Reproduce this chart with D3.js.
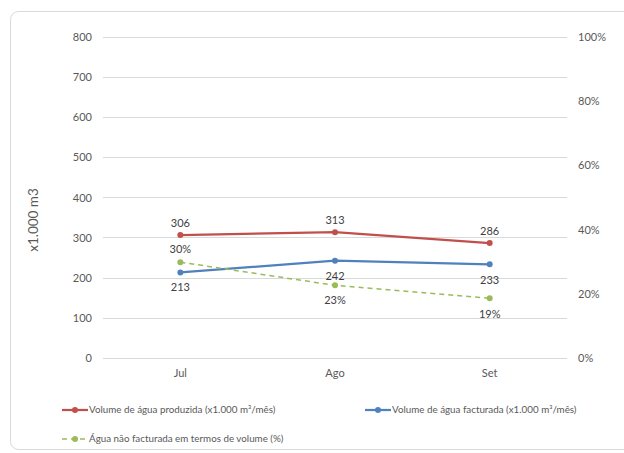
<!DOCTYPE html>
<html><head><meta charset="utf-8">
<script src="https://cdn.jsdelivr.net/npm/d3@7"></script>
<style>body{margin:0;background:#fff}svg{display:block}text{font-family:Lato,"Open Sans",sans-serif}</style>
</head><body><svg id="c" width="624" height="453"></svg>
<script>
const months = ["Jul","Ago","Set"];
const produced = [306,313,286];
const billed = [213,242,233];
const nonBilled = [0.298,0.226,0.186];
const nonBilledLabels = ["30%","23%","19%"];
const leftTicks = [0,100,200,300,400,500,600,700,800];
const rightTicks = [0,0.2,0.4,0.6,0.8,1];
const seriesNames = ["Volume de água produzida (x1.000 m³/mês)","Volume de água facturada (x1.000 m³/mês)","Água não facturada em termos de volume (%)"];

const svg = d3.select("#c");
svg.append("rect").attr("x",10.5).attr("y",11.5).attr("width",640).attr("height",438).attr("rx",8)
  .attr("fill","#fff").attr("stroke","#d9d9d9");

const x = d3.scaleBand().domain(months).range([103,567]);
const y = d3.scaleLinear().domain([0,800]).range([358,36.5]);
const y2 = d3.scaleLinear().domain([0,1]).range([358,36.5]);
const cx = d => x(d)+x.bandwidth()/2;

const gl = svg.append("g").attr("transform","translate(92,0)")
  .call(d3.axisLeft(y).tickValues(leftTicks).tickSize(0).tickPadding(0));
gl.select(".domain").remove();
gl.selectAll("text").attr("fill","#595959").style("font-size","11px").attr("dy","0.35em");
svg.append("g").selectAll("line").data(leftTicks).join("line")
  .attr("x1",103).attr("x2",567).attr("y1",d=>Math.round(y(d))+0.5).attr("y2",d=>Math.round(y(d))+0.5)
  .attr("stroke","#d9d9d9").attr("stroke-width",1);

const gr = svg.append("g").attr("transform","translate(578,0)")
  .call(d3.axisRight(y2).tickValues(rightTicks).tickFormat(d3.format(".0%")).tickSize(0).tickPadding(0));
gr.select(".domain").remove();
gr.selectAll("text").attr("fill","#595959").style("font-size","11px").attr("dy","0.35em");

const gx = svg.append("g").attr("transform","translate(0,369)")
  .call(d3.axisBottom(x).tickSize(0).tickPadding(0));
gx.select(".domain").remove();
gx.selectAll("text").attr("fill","#595959").style("font-size","11px").attr("dy","0.71em");

svg.append("text").attr("transform","translate(38,220) rotate(-90)").attr("text-anchor","middle")
  .attr("fill","#595959").style("font-size","13.5px").text("x1.000 m3");

const line = (yy)=>d3.line().x((d,i)=>cx(months[i])).y(d=>yy(d));
const series = [
  {data:produced,sc:y,color:"#c0504d",w:2.25,dash:null,labels:produced.map(String),off:[-12,-12,-12]},
  {data:billed,sc:y,color:"#4f81bd",w:2.25,dash:null,labels:billed.map(String),off:[15,15,16]},
  {data:nonBilled,sc:y2,color:"#9bbb59",w:1.5,dash:"5,4",labels:nonBilledLabels,off:[-13,15,16]}
];
series.forEach(s=>{
  svg.append("path").datum(s.data).attr("d",line(s.sc)).attr("fill","none").attr("stroke",s.color)
    .attr("stroke-width",s.w).attr("stroke-dasharray",s.dash);
  svg.append("g").selectAll("circle").data(s.data).join("circle")
    .attr("cx",(d,i)=>cx(months[i])).attr("cy",d=>s.sc(d)).attr("r",3).attr("fill",s.color);
  svg.append("g").selectAll("text").data(s.data).join("text")
    .attr("x",(d,i)=>cx(months[i])).attr("y",(d,i)=>s.sc(d)+s.off[i]).attr("dy","0.35em")
    .attr("text-anchor","middle").attr("fill","#404040").style("font-size","11px").text((d,i)=>s.labels[i]);
});

const legend = [
  {x:62,y:410,color:"#c0504d",dash:null,w:2.25,name:seriesNames[0]},
  {x:365,y:410,color:"#4f81bd",dash:null,w:2.25,name:seriesNames[1]},
  {x:62,y:439,color:"#9bbb59",dash:"5,4",w:1.5,name:seriesNames[2]}
];
legend.forEach(l=>{
  svg.append("line").attr("x1",l.x).attr("x2",l.x+26).attr("y1",l.y).attr("y2",l.y)
    .attr("stroke",l.color).attr("stroke-width",l.w).attr("stroke-dasharray",l.dash);
  svg.append("circle").attr("cx",l.x+13).attr("cy",l.y).attr("r",3).attr("fill",l.color);
  svg.append("text").attr("x",l.x+27).attr("y",l.y).attr("dy","0.35em").attr("fill","#595959")
    .style("font-size","9.8px").text(l.name);
});
</script></body></html>
